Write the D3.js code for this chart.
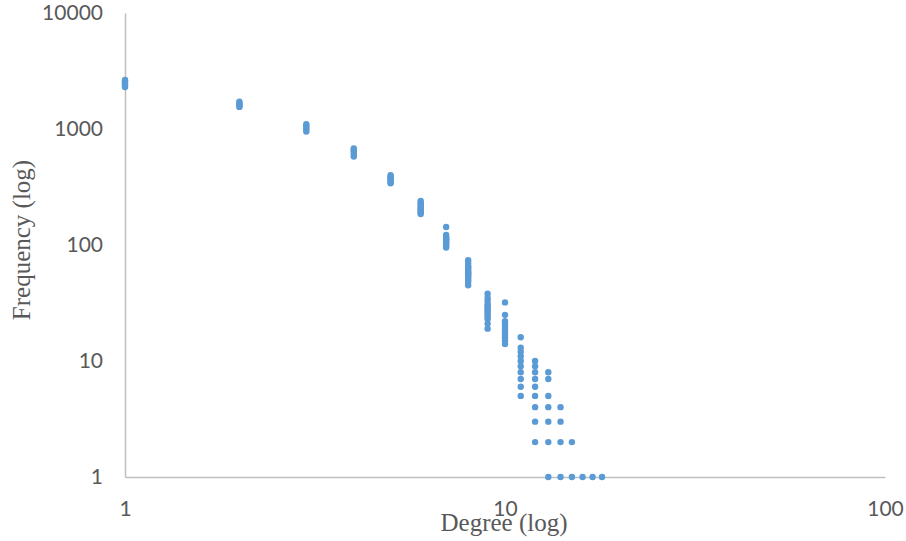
<!DOCTYPE html>
<html>
<head>
<meta charset="utf-8">
<script src="https://cdn.jsdelivr.net/npm/d3@7"></script>
<style>
  html, body { margin: 0; padding: 0; background: #ffffff; }
  svg { display: block; }
</style>
</head>
<body>
<svg id="chart" width="906" height="541"></svg>
<script>
// Degree distribution: every degree has several observed frequencies
const degrees = [1, 2, 3, 4, 5, 6, 7, 8, 9, 10, 11, 12, 13, 14, 15, 16, 17, 18];
const frequencies = [
  [2300, 2360, 2420, 2480, 2550, 2600, 2650],
  [1550, 1590, 1630, 1670, 1720],
  [950, 990, 1030, 1070, 1100],
  [580, 610, 640, 660, 680],
  [340, 350, 360, 370, 380, 390, 400],
  [185, 190, 195, 200, 205, 210, 218, 225, 232, 240],
  [95, 98, 100, 103, 105, 108, 110, 112, 115, 118, 122, 143],
  [45, 48, 50, 52, 54, 55, 57, 58, 60, 62, 64, 66, 70, 74],
  [19, 21, 23, 24, 25, 26, 27, 28, 29, 30, 31, 33, 35, 38],
  [14, 15, 16, 17, 18, 19, 20, 21, 22, 25, 32],
  [5, 6, 7, 8, 9, 10, 11, 12, 13, 16],
  [2, 3, 4, 5, 6, 7, 8, 9, 10],
  [1, 2, 3, 4, 5, 7, 8],
  [1, 2, 3, 4],
  [1, 2],
  [1],
  [1],
  [1]
];
const xTicks = [1, 10, 100];
const yTicks = [1, 10, 100, 1000, 10000];
const xTitle = "Degree (log)";
const yTitle = "Frequency (log)";

const points = degrees.flatMap((d, i) => frequencies[i].map(f => ({ degree: d, freq: f })));

const svg = d3.select("#chart");
const plotLeft = 125, plotRight = 885, plotTop = 13, plotBottom = 477;

const x = d3.scaleLog().domain([1, 100]).range([plotLeft, plotRight]);
const y = d3.scaleLog().domain([1, 10000]).range([plotBottom, plotTop]);

const axisColor = "#bfbfbf";
const labelColor = "#595959";

// Axes: plain lines with numeric labels, no tick marks
const xAxis = svg.append("g")
  .attr("transform", `translate(0,${plotBottom})`)
  .call(d3.axisBottom(x).tickValues(xTicks).tickFormat(d3.format("d")).tickSize(0).tickPadding(24));
const yAxis = svg.append("g")
  .attr("transform", `translate(${plotLeft},0)`)
  .call(d3.axisLeft(y).tickValues(yTicks).tickFormat(d3.format("d")).tickSize(0).tickPadding(22));

[xAxis, yAxis].forEach(g => {
  g.select(".domain").attr("stroke", axisColor).attr("stroke-width", 1.5);
  g.selectAll("text")
    .attr("fill", labelColor)
    .style("font-family", "Lato, 'Open Sans', sans-serif")
    .style("font-size", "21px");
});

// Scatter points
svg.append("g")
  .selectAll("circle")
  .data(points)
  .join("circle")
  .attr("cx", d => x(d.degree))
  .attr("cy", d => y(d.freq))
  .attr("r", 3.2)
  .attr("fill", "#5b9bd5");

// Axis titles
svg.append("text")
  .attr("x", 504)
  .attr("y", 531)
  .attr("text-anchor", "middle")
  .attr("fill", labelColor)
  .style("font-family", "'Liberation Serif', serif")
  .style("font-size", "25px")
  .text(xTitle);

svg.append("text")
  .attr("transform", "translate(30,240) rotate(-90)")
  .attr("text-anchor", "middle")
  .attr("fill", labelColor)
  .style("font-family", "'Liberation Serif', serif")
  .style("font-size", "25px")
  .text(yTitle);
</script>
</body>
</html>
